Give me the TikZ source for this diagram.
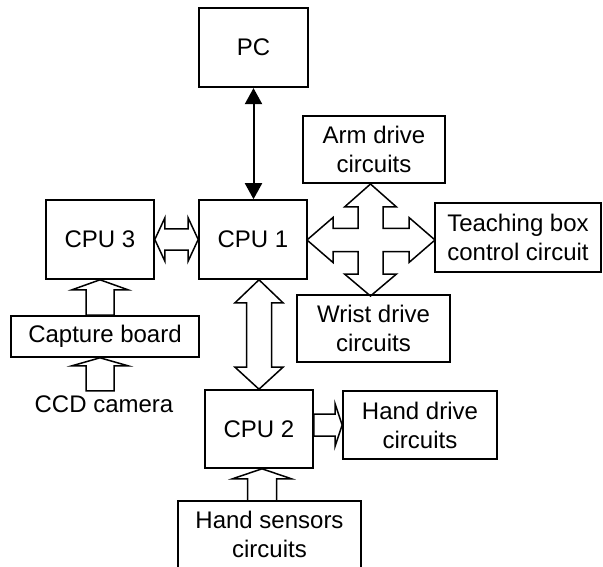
\documentclass[tikz,border=0pt]{standalone}
\usepackage{fontspec}
\setmainfont{Liberation Sans}
\usetikzlibrary{calc,arrows.meta}
\begin{document}
\begin{tikzpicture}[x=1pt,y=-1pt,
  font=\fontsize{24}{29}\selectfont,
  box/.style={draw,line width=1.6pt,inner sep=0pt,align=center},
  hollow/.style={draw,line width=1.5pt,line join=miter},
  thinarrow/.style={line width=2pt,{Triangle[width=17pt,length=16pt]}-{Triangle[width=17pt,length=16pt]}}]
\useasboundingbox (0,0) rectangle (603,567);

% boxes
\node[box,line width=2.2pt,minimum width=109pt,minimum height=79pt] (pc) at (253.5,47.5) {PC};
\node[box,minimum width=108pt,minimum height=79pt] (cpu3) at (100,239.5) {CPU 3};
\node[box,minimum width=108pt,minimum height=79pt] (cpu1) at (253,239.5) {CPU 1};
\node[box,minimum width=188pt,minimum height=41pt] (cap) at (105,336.5) {Capture board};
\node[inner sep=0pt] (ccd) at (104,404) {CCD camera};
\node[box,minimum width=108pt,minimum height=78pt] (cpu2) at (259,429) {CPU 2};
\node[box,minimum width=154pt,minimum height=68pt] (handd) at (420,425) {Hand drive\\circuits};
\node[box,minimum width=142pt,minimum height=67pt] (arm) at (374,149.5) {Arm drive\\circuits};
\node[box,minimum width=166pt,minimum height=69pt] (teach) at (518,237.5) {Teaching box\\control circuit};
\node[box,minimum width=153pt,minimum height=67pt] (wrist) at (373.5,328.5) {Wrist drive\\circuits};
\node[inner sep=0pt,align=center] (hs) at (269.5,534) {Hand sensors\\circuits};
\coordinate (hstl) at (178,501);
\coordinate (hstr) at (361,501);
\draw[line width=1.6pt] (hstl |- 0,567) -- (hstl) -- (hstr) -- (hstr |- 0,567);

% PC <-> CPU 1
\draw[thinarrow] (pc.south) -- (pc.south |- cpu1.north);

% CPU 3 <-> CPU 1
\draw[hollow] (cpu3.east) -- ++(10,-21.5) -- ++(0,11)
  -- ($(cpu1.west)+(-10,-10.5)$) -- ++(0,-11) -- (cpu1.west)
  -- ++(-10,21.5) -- ++(0,-11)
  -- ($(cpu3.east)+(10,10.5)$) -- ++(0,11) -- cycle;

% Capture board -> CPU 3
\coordinate (t1) at (cpu3.south);
\draw[hollow] (t1) -- ++(28,10) -- ++(-14,0) -- ($(t1 |- cap.north)+(14,0)$)
  -- ++(-28,0) -- ($(t1)+(-14,10)$) -- ++(-14,0) -- cycle;

% CCD camera -> Capture board
\coordinate (t2) at (t1 |- cap.south);
\draw[hollow] (t2) -- ++(28,8) -- ++(-14,0) -- ++(0,25)
  -- ++(-28,0) -- ++(0,-25) -- ++(-14,0) -- cycle;

% CPU 1 <-> CPU 2
\coordinate (t3) at (cpu2.north |- cpu1.south);
\draw[hollow] (t3) -- ++(24,23) -- ++(-11.5,0)
  -- ($(cpu2.north)+(12.5,-22)$) -- ++(11.5,0) -- (cpu2.north)
  -- ++(-24,-22) -- ++(11.5,0)
  -- ($(t3)+(-12.5,23)$) -- ++(-11.5,0) -- cycle;

% CPU 2 -> Hand drive
\coordinate (t4) at (handd.west);
\coordinate (b4) at (cpu2.east |- handd.west);
\draw[hollow] (t4) -- ++(-7,-21) -- ++(0,10) -- ($(b4)+(0,-11)$)
  -- ++(0,22) -- ($(t4)+(-7,11)$) -- ++(0,10) -- cycle;

% Hand sensors -> CPU 2
\coordinate (t5) at ($(cpu2.south)+(3,0)$);
\draw[hollow] (t5) -- ++(29.5,10) -- ++(-15,0) -- ($(t5 |- hstl)+(14.5,0)$)
  -- ++(-29,0) -- ($(t5)+(-14.5,10)$) -- ++(-15,0) -- cycle;

% four-way arrow
\coordinate (x) at (370.5,240);
\draw[hollow,shift={(x)}] (0,-56) -- (26,-33) -- (12.5,-33) -- (12.5,-11.5)
  -- (38.5,-11.5) -- (38.5,-22.5) -- (64.5,0) -- (38.5,22.5) -- (38.5,11.5)
  -- (12.5,11.5) -- (12.5,34) -- (26,34) -- (0,56) -- (-26,34) -- (-12.5,34)
  -- (-12.5,11.5) -- (-37.5,11.5) -- (-37.5,22.5) -- (-63.5,0) -- (-37.5,-22.5)
  -- (-37.5,-11.5) -- (-12.5,-11.5) -- (-12.5,-33) -- (-26,-33) -- cycle;
\end{tikzpicture}
\end{document}
